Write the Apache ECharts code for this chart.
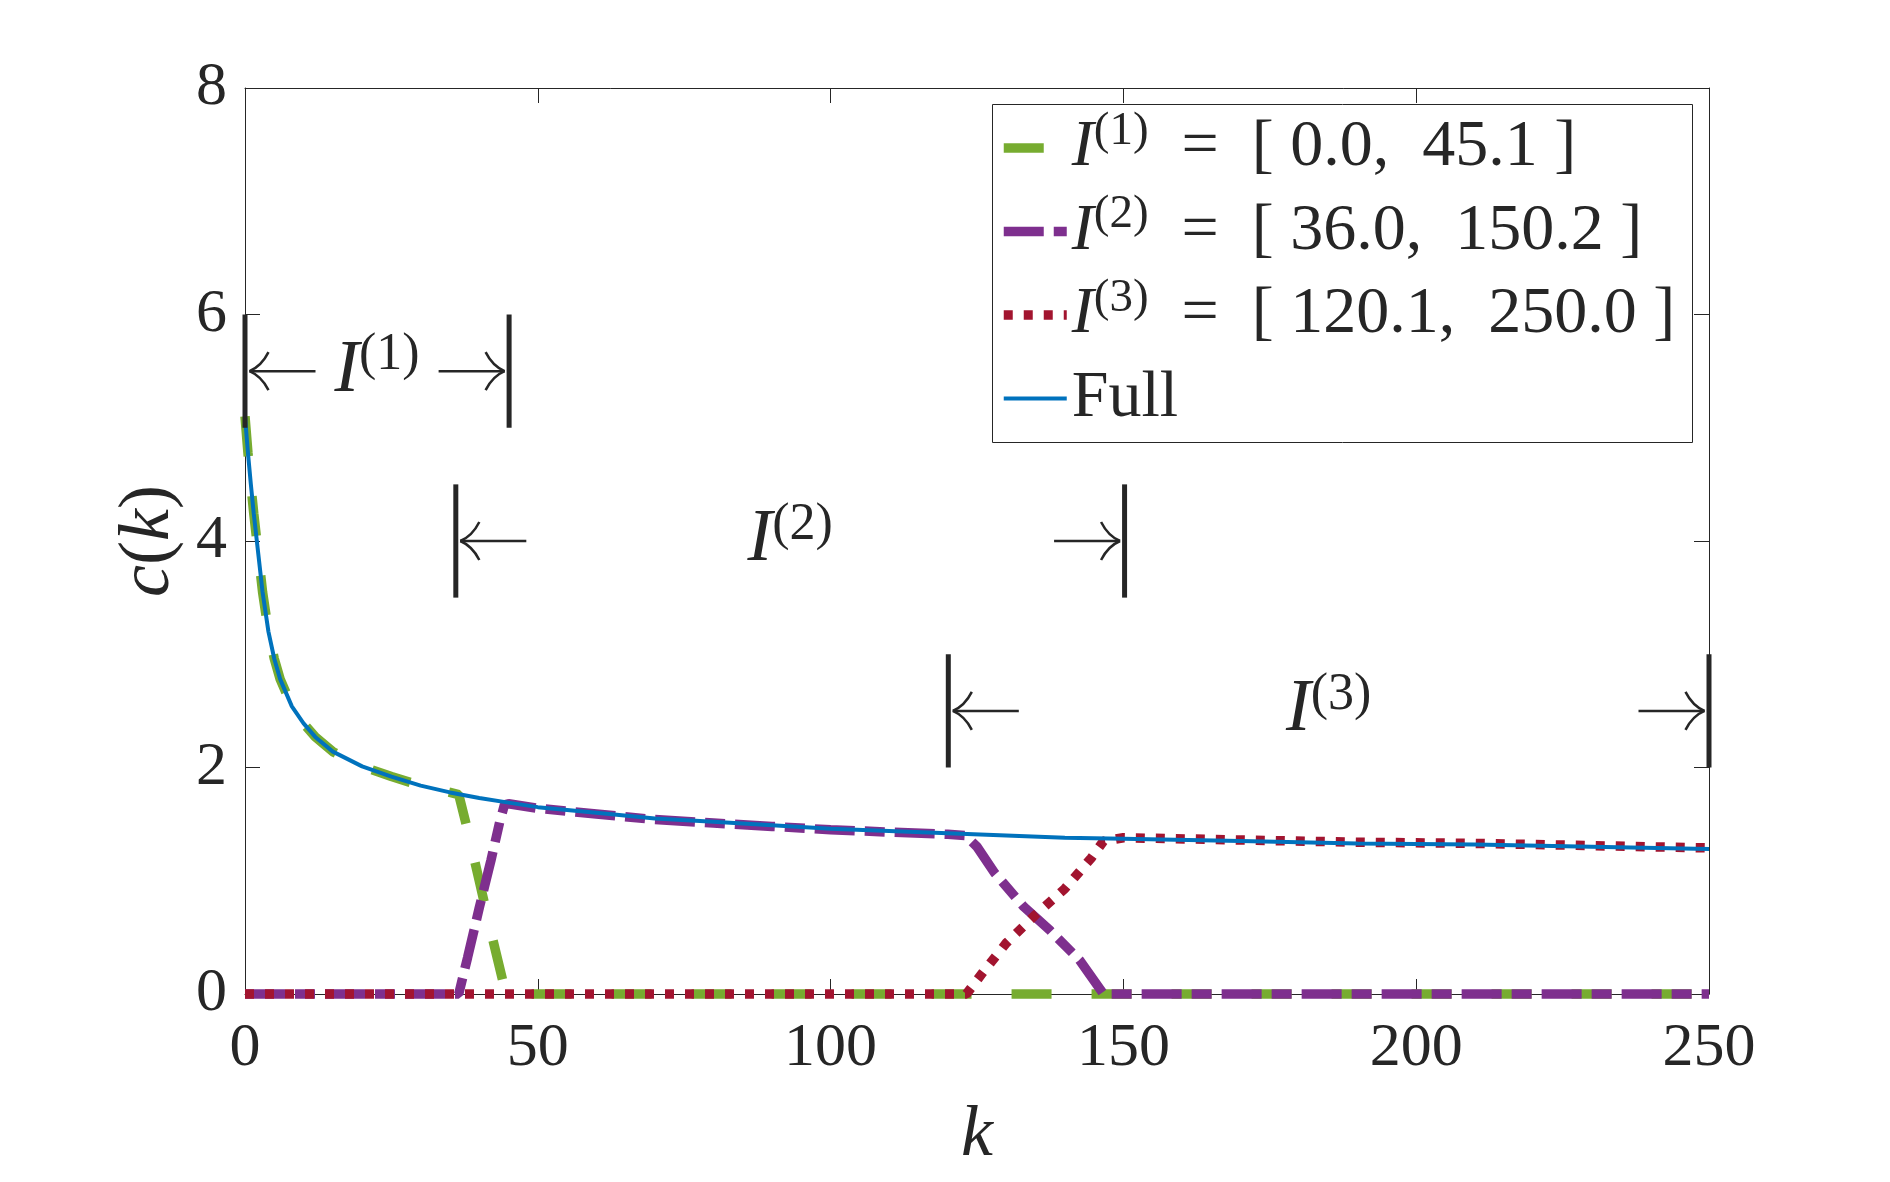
<!DOCTYPE html>
<html>
<head>
<meta charset="utf-8">
<script src="https://cdn.jsdelivr.net/npm/echarts@6/dist/echarts.min.js"></script>
<style>
  html, body { margin: 0; padding: 0; background: #fff; }
  #chart { width: 1890px; height: 1182px; }
</style>
</head>
<body>
<div id="chart"></div>
<script>
// axis ranges
var kMin = 0, kMax = 250, kStep = 50;
var cMin = 0, cMax = 8, cStep = 2;

// full curve c(k)
var fullK = [0, 0.5, 1, 1.5, 2, 3, 4, 5, 6, 8, 10, 12, 15, 20, 25, 30, 35, 40, 45, 50, 60, 70, 80, 90, 100, 110, 120, 130, 140, 150, 170, 190, 210, 230, 250];
var fullC = [5.10, 4.78, 4.50, 4.24, 4.01, 3.55, 3.20, 2.96, 2.78, 2.54, 2.39, 2.27, 2.14, 2.01, 1.92, 1.84, 1.78, 1.73, 1.69, 1.65, 1.60, 1.55, 1.52, 1.49, 1.46, 1.44, 1.42, 1.40, 1.38, 1.37, 1.35, 1.33, 1.32, 1.30, 1.28];

// I(1) piece
var i1K = [0, 0.5, 1, 1.5, 2, 3, 4, 5, 6, 8, 10, 12, 15, 20, 25, 30, 35, 36.5, 38, 40, 42, 44, 44.7, 250];
var i1C = [5.10, 4.78, 4.50, 4.24, 4.01, 3.55, 3.20, 2.96, 2.78, 2.54, 2.39, 2.27, 2.14, 2.01, 1.92, 1.84, 1.78, 1.76, 1.45, 1.00, 0.55, 0.12, 0, 0];

// I(2) piece
var i2K = [0, 36.5, 38, 40, 42, 43.5, 44.3, 45, 50, 60, 70, 80, 90, 100, 110, 120, 123, 125, 128, 133, 137.5, 142.5, 146.6, 250];
var i2C = [0, 0, 0.32, 0.76, 1.18, 1.52, 1.67, 1.68, 1.64, 1.59, 1.54, 1.51, 1.48, 1.45, 1.43, 1.41, 1.40, 1.30, 1.07, 0.77, 0.56, 0.30, 0, 0];

// I(3) piece
var i3K = [0, 123.2, 126, 130, 135, 140, 144.5, 146.6, 150, 170, 190, 210, 230, 250];
var i3C = [0, 0, 0.19, 0.45, 0.70, 0.93, 1.20, 1.35, 1.38, 1.36, 1.34, 1.33, 1.31, 1.29];

// interval markers
var intervalStart = [0.0, 36.0, 120.1];
var intervalEnd = [45.1, 150.2, 250.0];
var markerLow = [5, 3.5, 2];
var markerHigh = [6, 4.5, 3];
var intervalTags = ['(1)', '(2)', '(3)'];

var seriesNames = ['I(1) = [ 0.0, 45.1 ]', 'I(2) = [ 36.0, 150.2 ]', 'I(3) = [ 120.1, 250.0 ]', 'Full'];
var legendTexts = [
  '{i|I}{s|(1)}{t|  =  [ 0.0,  45.1 ]}',
  '{i|I}{s|(2)}{t|  =  [ 36.0,  150.2 ]}',
  '{i|I}{s|(3)}{t|  =  [ 120.1,  250.0 ]}',
  '{t|Full}'
];

var serif = "'Liberation Serif', 'DejaVu Serif', serif";
var ink = '#262626';

function pairs(ks, cs) {
  var out = [];
  for (var i = 0; i < ks.length; i++) out.push([ks[i], cs[i]]);
  return out;
}

var markerData = [];
for (var m = 0; m < intervalStart.length; m++) {
  markerData.push([intervalStart[m], intervalEnd[m], markerLow[m], markerHigh[m]]);
}

var dashGreen = [40, 40];
var dashPurple = [40, 10, 20, 10];
var dashRed = [9, 11];

function renderInterval(params, api) {
  var i = params.dataIndex;
  var pa = api.coord([api.value(0), api.value(3)]);
  var pb = api.coord([api.value(1), api.value(2)]);
  var xa = pa[0], xb = pb[0], yTop = pa[1], yBot = pb[1];
  var ym = (yTop + yBot) / 2;
  var kids = [];
  [xa, xb].forEach(function (x) {
    kids.push({ type: 'rect', shape: { x: x - 2.5, y: yTop, width: 5, height: yBot - yTop }, style: { fill: ink } });
  });
  var len = 66;
  var tipL = xa + 4.5, tipR = xb - 4.5;
  kids.push({ type: 'line', shape: { x1: tipL, y1: ym, x2: tipL + len, y2: ym }, style: { stroke: ink, lineWidth: 2.5 } });
  kids.push({ type: 'line', shape: { x1: tipR - len, y1: ym, x2: tipR, y2: ym }, style: { stroke: ink, lineWidth: 2.5 } });
  [[tipL, 1], [tipR, -1]].forEach(function (t) {
    [-1, 1].forEach(function (s) {
      kids.push({
        type: 'bezierCurve',
        shape: { x1: t[0], y1: ym, cpx1: t[0] + t[1] * 12, cpy1: ym + s * 5, x2: t[0] + t[1] * 19, y2: ym + s * 19 },
        style: { stroke: ink, lineWidth: 2.5, fill: 'none' }
      });
    });
  });
  kids.push({
    type: 'text',
    x: (xa + xb) / 2,
    y: ym,
    style: {
      text: '{i|I}{s|' + intervalTags[i] + '}',
      align: 'center',
      verticalAlign: 'middle',
      fill: ink,
      rich: {
        i: { fontFamily: serif, fontStyle: 'italic', fontSize: 74, lineHeight: 84, fill: ink },
        s: { fontFamily: serif, fontSize: 52, lineHeight: 50, verticalAlign: 'top', fill: ink }
      }
    }
  });
  return { type: 'group', children: kids };
}

var chart = echarts.init(document.getElementById('chart'));

var baseAxis = {
  axisLine: { show: true, onZero: false, lineStyle: { color: ink, width: 1 } },
  axisTick: { show: true, inside: true, length: 15, lineStyle: { color: ink, width: 1 } },
  splitLine: { show: false }
};

chart.setOption({
  animation: false,
  backgroundColor: '#fff',
  grid: { left: 245, right: 181, top: 88, bottom: 188, containLabel: false },
  xAxis: [
    Object.assign({}, baseAxis, {
      type: 'value', min: kMin, max: kMax, interval: kStep, position: 'bottom',
      axisLabel: { margin: 24, fontFamily: serif, fontSize: 62, color: ink },
      name: 'k', nameLocation: 'middle', nameGap: 106,
      nameTextStyle: { fontFamily: serif, fontStyle: 'italic', fontSize: 72, color: ink }
    }),
    Object.assign({}, baseAxis, {
      type: 'value', min: kMin, max: kMax, interval: kStep, position: 'top',
      axisLabel: { show: false }
    })
  ],
  yAxis: [
    Object.assign({}, baseAxis, {
      type: 'value', min: cMin, max: cMax, interval: cStep, position: 'left',
      axisLabel: { margin: 18, fontFamily: serif, fontSize: 62, color: ink },
      name: '{it|c}{rm|(}{it|k}{rm|)}', nameLocation: 'middle', nameGap: 58, nameRotate: 90,
      nameTextStyle: {
        color: ink,
        rich: {
          it: { fontFamily: serif, fontStyle: 'italic', fontSize: 72, color: ink },
          rm: { fontFamily: serif, fontSize: 72, color: ink }
        }
      }
    }),
    Object.assign({}, baseAxis, {
      type: 'value', min: cMin, max: cMax, interval: cStep, position: 'right',
      axisLabel: { show: false }
    })
  ],
  legend: {
    orient: 'vertical',
    left: 999,
    top: 108,
    padding: 0,
    itemGap: 3.5,
    itemWidth: 63,
    itemHeight: 9,
    selectedMode: false,
    itemStyle: { color: 'rgba(0,0,0,0)', borderWidth: 0, opacity: 0 },
    data: [
      { name: seriesNames[0], lineStyle: { width: 9.5, type: dashGreen, color: '#77AC30' } },
      { name: seriesNames[1], lineStyle: { width: 9.5, type: dashPurple, color: '#7E2F8E' } },
      { name: seriesNames[2], lineStyle: { width: 9.5, type: dashRed, color: '#A2142F' } },
      { name: seriesNames[3], lineStyle: { width: 4, type: 'solid', color: '#0072BD' } }
    ],
    formatter: function (name) { return legendTexts[seriesNames.indexOf(name)]; },
    textStyle: {
      color: ink,
      lineHeight: 80,
      backgroundColor: 'rgba(255,255,255,0)',
      rich: {
        i: { fontFamily: serif, fontStyle: 'italic', fontSize: 66, lineHeight: 80, color: ink },
        s: { fontFamily: serif, fontSize: 47, lineHeight: 52, verticalAlign: 'top', color: ink },
        t: { fontFamily: serif, fontSize: 66, lineHeight: 80, color: ink }
      }
    },
    z: 6
  },
  graphic: [{
    type: 'rect',
    shape: { x: 992.5, y: 104.5, width: 700, height: 338 },
    style: { fill: '#fff', stroke: ink, lineWidth: 1 },
    z: 5
  }],
  series: [
    {
      name: seriesNames[0], type: 'line', data: pairs(i1K, i1C), symbol: 'none', clip: false,
      lineStyle: { color: '#77AC30', width: 9.5, type: dashGreen, cap: 'butt' }, itemStyle: { color: '#77AC30' }
    },
    {
      name: seriesNames[1], type: 'line', data: pairs(i2K, i2C), symbol: 'none', clip: false,
      lineStyle: { color: '#7E2F8E', width: 9.5, type: dashPurple, cap: 'butt' }, itemStyle: { color: '#7E2F8E' }
    },
    {
      name: seriesNames[2], type: 'line', data: pairs(i3K, i3C), symbol: 'none', clip: false,
      lineStyle: { color: '#A2142F', width: 9.5, type: dashRed, cap: 'butt' }, itemStyle: { color: '#A2142F' }
    },
    {
      name: seriesNames[3], type: 'line', data: pairs(fullK, fullC), symbol: 'none', clip: false,
      lineStyle: { color: '#0072BD', width: 4 }, itemStyle: { color: '#0072BD' }
    },
    {
      name: 'intervals', type: 'custom', renderItem: renderInterval, data: markerData,
      encode: { x: [0, 1], y: [2, 3] }, clip: false, silent: true, z: 4
    }
  ]
});
</script>
</body>
</html>
